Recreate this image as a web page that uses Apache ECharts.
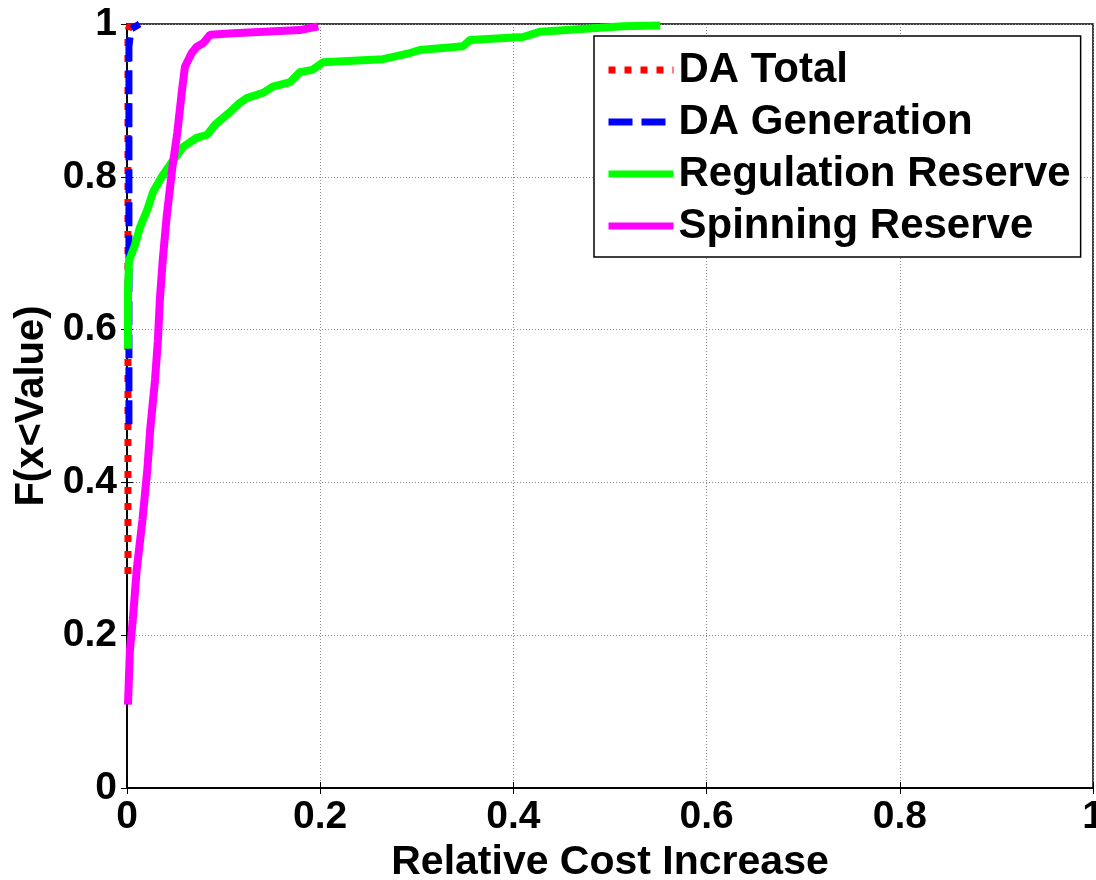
<!DOCTYPE html>
<html>
<head>
<meta charset="utf-8">
<script src="https://cdn.jsdelivr.net/npm/echarts@6/dist/echarts.min.js"></script>
<style>html,body{margin:0;padding:0;background:#fff}#c{width:1096px;height:880px}</style>
</head>
<body>
<div id="c"></div>
<script>
const seriesNames = ['DA Total', 'DA Generation', 'Regulation Reserve', 'Spinning Reserve'];
const xTicks = [0, 0.2, 0.4, 0.6, 0.8, 1];
const yTicks = [0, 0.2, 0.4, 0.6, 0.8, 1];

const daTotalX = [0.001, 0.001, 0.001, 0.003];
const daTotalY = [0.28, 0.60, 0.99, 1.0];

const daGenX = [0.002, 0.002, 0.004, 0.013];
const daGenY = [0.476, 0.97, 0.993, 1.0];

const regX = [0.001, 0.001, 0.002, 0.008, 0.0135, 0.021, 0.027, 0.036, 0.048, 0.058, 0.072, 0.083, 0.091, 0.105, 0.117, 0.124, 0.141, 0.151, 0.169, 0.179, 0.192, 0.203, 0.265, 0.293, 0.303, 0.348, 0.355, 0.41, 0.428, 0.49, 0.513, 0.552];
const regY = [0.575, 0.65, 0.69, 0.71, 0.734, 0.757, 0.78, 0.80, 0.822, 0.839, 0.851, 0.855, 0.868, 0.883, 0.897, 0.903, 0.91, 0.918, 0.924, 0.937, 0.94, 0.95, 0.954, 0.962, 0.966, 0.971, 0.979, 0.983, 0.99, 0.995, 0.997, 0.998];

const spinX = [0.001, 0.003, 0.006, 0.010, 0.016, 0.021, 0.024, 0.029, 0.032, 0.034, 0.037, 0.041, 0.047, 0.052, 0.057, 0.060, 0.067, 0.072, 0.079, 0.086, 0.110, 0.179, 0.198];
const spinY = [0.109, 0.18, 0.22, 0.285, 0.351, 0.416, 0.469, 0.534, 0.586, 0.639, 0.691, 0.747, 0.813, 0.857, 0.914, 0.944, 0.962, 0.970, 0.975, 0.986, 0.988, 0.992, 0.997];

const pair = (xs, ys) => xs.map((x, i) => [x, ys[i]]);
const FONT = '"Liberation Sans", Arial, Helvetica, sans-serif';

const chart = echarts.init(document.getElementById('c'), null, {renderer: 'canvas'});
const axisCommon = {
  type: 'value', min: 0, max: 1, interval: 0.2,
  axisLine: {show: true, lineStyle: {color: '#000', width: 1.5}},
  axisTick: {show: true, inside: true, length: 6, lineStyle: {color: '#000', width: 1}},
};
chart.setOption({
  animation: false,
  backgroundColor: '#fff',
  grid: {left: 127, right: 3, top: 24, bottom: 92, show: true, borderColor: '#000', borderWidth: 1.5,
    containLabel: false, outerBoundsMode: 'none'},
  legend: {
    data: seriesNames,
    orient: 'vertical',
    left: 594, top: 36,
    backgroundColor: '#fff',
    borderColor: '#000', borderWidth: 1.5, borderRadius: 0,
    padding: [13, 10, 10, 11],
    itemWidth: 65, itemHeight: 7, itemGap: 10,
    itemStyle: {opacity: 0},
    lineStyle: {width: 7, cap: 'butt'},
    textStyle: {fontFamily: FONT, fontWeight: 'bold', fontSize: 42, color: '#000', padding: [0, 0, 0, 0]},
    inactiveColor: '#000',
    selectedMode: false
  },
  xAxis: [
    Object.assign({}, axisCommon, {
      position: 'bottom',
      name: 'Relative Cost Increase', nameLocation: 'middle', nameGap: 48,
      nameTextStyle: {fontFamily: FONT, fontWeight: 'bold', fontSize: 41, color: '#000'},
      axisLabel: {fontFamily: FONT, fontWeight: 'bold', fontSize: 39, color: '#000', margin: 10,
        formatter: v => String(xTicks.find(t => Math.abs(t - v) < 1e-9) ?? v)},
      splitLine: {show: true, lineStyle: {color: '#8c8c8c', type: [1, 2], width: 1}}
    }),
    Object.assign({}, axisCommon, {
      position: 'top', axisLabel: {show: false}, splitLine: {show: false}
    })
  ],
  yAxis: [
    Object.assign({}, axisCommon, {
      position: 'left',
      name: 'F(x<Value)', nameLocation: 'middle', nameGap: 74,
      nameTextStyle: {fontFamily: FONT, fontWeight: 'bold', fontSize: 40, color: '#000'},
      axisLabel: {fontFamily: FONT, fontWeight: 'bold', fontSize: 39, color: '#000', margin: 10,
        formatter: v => String(yTicks.find(t => Math.abs(t - v) < 1e-9) ?? v)},
      splitLine: {show: true, lineStyle: {color: '#8c8c8c', type: [1, 2], width: 1}}
    }),
    Object.assign({}, axisCommon, {
      position: 'right', axisLabel: {show: false}, splitLine: {show: false}
    })
  ],
  series: [
    {name: seriesNames[0], type: 'line', data: pair(daTotalX, daTotalY), showSymbol: false, symbol: 'none',
      color: '#ff0000', lineStyle: {color: '#ff0000', width: 7, type: [7, 9], cap: 'butt'}},
    {name: seriesNames[1], type: 'line', data: pair(daGenX, daGenY), showSymbol: false, symbol: 'none',
      color: '#0000ff', lineStyle: {color: '#0000ff', width: 7, type: [24, 9], cap: 'butt'}},
    {name: seriesNames[2], type: 'line', data: pair(regX, regY), showSymbol: false, symbol: 'none',
      color: '#00ff00', lineStyle: {color: '#00ff00', width: 8, type: 'solid'}},
    {name: seriesNames[3], type: 'line', data: pair(spinX, spinY), showSymbol: false, symbol: 'none',
      color: '#ff00ff', lineStyle: {color: '#ff00ff', width: 8, type: 'solid'}}
  ]
});
</script>
</body>
</html>
